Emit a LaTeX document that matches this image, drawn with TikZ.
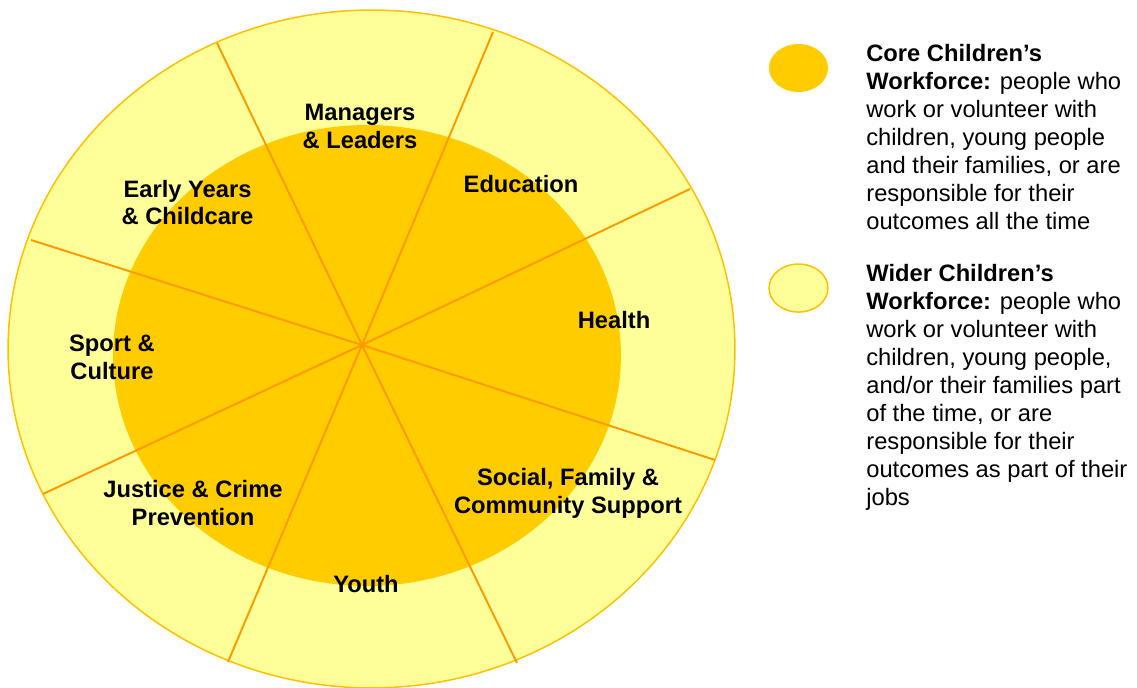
\documentclass[tikz,border=0pt]{standalone}
\usepackage{fontspec}
\setmainfont{Liberation Sans}
\usetikzlibrary{positioning, shapes.geometric}

\definecolor{core}{HTML}{FFCC00}
\definecolor{wider}{HTML}{FFFF99}
\definecolor{rim}{HTML}{FFC000}
\definecolor{spoke}{HTML}{FF9900}

\begin{document}
\begin{tikzpicture}[x=0.02cm, y=-0.02cm,
  sector/.style={font=\fontsize{13.5}{15.9}\selectfont\bfseries, align=center, inner sep=0pt},
  spoke line/.style={draw=spoke, line width=1.1pt},
  key/.style={ellipse, minimum width=1.18cm, minimum height=0.96cm, inner sep=0pt},
  legend text/.style={anchor=north west, inner sep=0pt, align=left, font=\fontsize{13.5}{15.9}\selectfont}]

  \useasboundingbox (0,0) rectangle (1137,688);

  % Define rings
  \filldraw[fill=wider, draw=rim, line width=0.85pt] (371.5,349) ellipse [x radius=7.27cm, y radius=6.78cm];
  \fill[core] (367,355.5) ellipse [x radius=5.08cm, y radius=4.61cm];

  % Define spoke ends
  \coordinate (hub) at (362,345);
  \coordinate (r1) at (217,43);
  \coordinate (r2) at (493,32);
  \coordinate (r3) at (690,189);
  \coordinate (r4) at (715,460);
  \coordinate (r5) at (517,663);
  \coordinate (r6) at (228,662);
  \coordinate (r7) at (43,494);
  \coordinate (r8) at (31,240);

  % Define spokes
  \draw[spoke line]
    (hub) -- (r1) (hub) -- (r2) (hub) -- (r3) (hub) -- (r4)
    (hub) -- (r5) (hub) -- (r6) (hub) -- (r7) (hub) -- (r8);

  % Define sector labels
  \node[sector] (managers) at (360,126.5) {Managers\\\& Leaders};
  \node[sector] (education) at (521,184) {Education};
  \node[sector] (early) at (187.5,202.5) {Early Years\\\& Childcare};
  \node[sector] (health) at (614,320) {Health};
  \node[sector] (sport) at (112,357.5) {Sport \&\\Culture};
  \node[sector] (justice) at (193,503) {Justice \& Crime\\Prevention};
  \node[sector] (youth) at (366,584) {Youth};
  \node[sector] (social) at (568,493) {Social, Family \&\\Community Support};

  % Define legend
  \node[key, fill=core] (corekey) at (798.5,68) {};
  \node[key, fill=wider, draw=rim, line width=0.85pt, below=3.42cm of corekey] (widerkey) {};
  \node[legend text] (coretext) at (866,44) {\textbf{Core Children’s}\\\textbf{Workforce:} people who\\work or volunteer with\\children, young people\\and their families, or are\\responsible for their\\outcomes all the time};
  \node[legend text] (widertext) at (866,264) {\textbf{Wider Children’s}\\\textbf{Workforce:} people who\\work or volunteer with\\children, young people,\\and/or their families part\\of the time, or are\\responsible for their\\outcomes as part of their\\jobs};
\end{tikzpicture}
\end{document}
